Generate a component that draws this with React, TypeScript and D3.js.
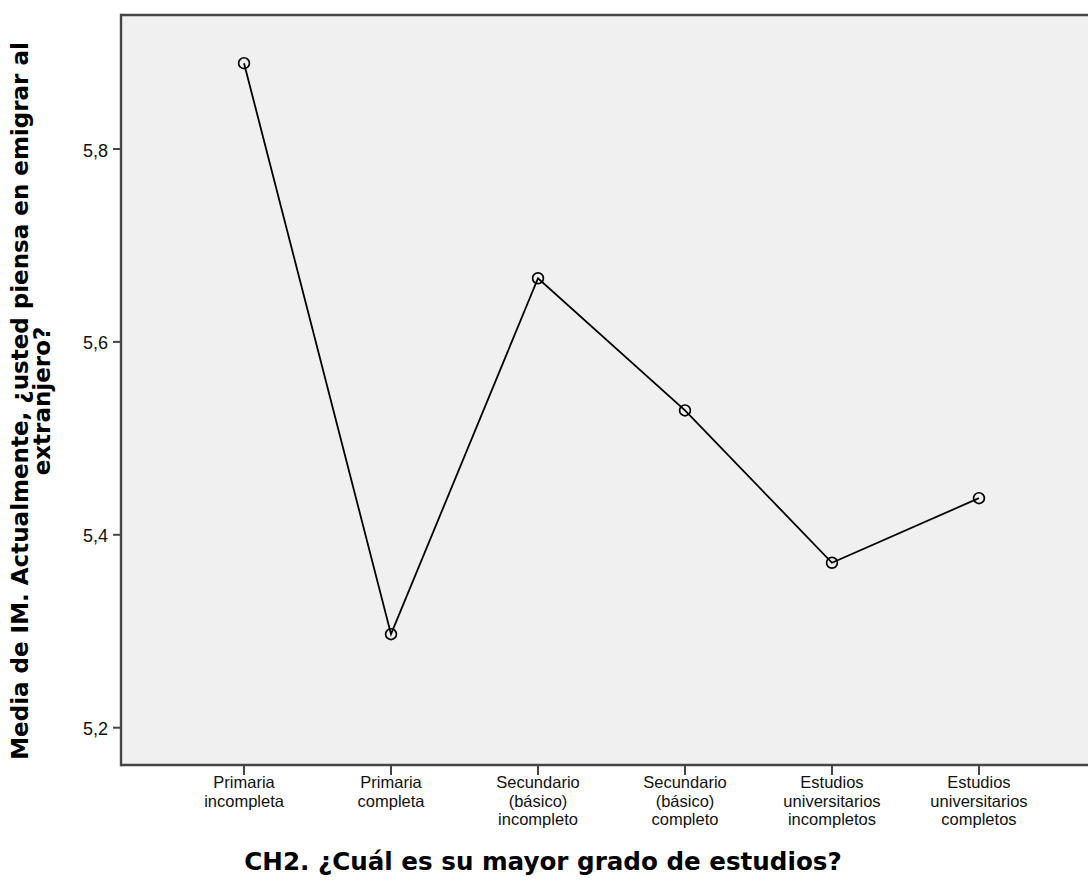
import React from "react";
import * as d3 from "d3";

const categories = [
  "Primaria incompleta",
  "Primaria completa",
  "Secundario (básico) incompleto",
  "Secundario (básico) completo",
  "Estudios universitarios incompletos",
  "Estudios universitarios completos",
];
const categoryLines = [
  ["Primaria", "incompleta"],
  ["Primaria", "completa"],
  ["Secundario", "(básico)", "incompleto"],
  ["Secundario", "(básico)", "completo"],
  ["Estudios", "universitarios", "incompletos"],
  ["Estudios", "universitarios", "completos"],
];
const means = [5.889, 5.297, 5.666, 5.529, 5.371, 5.438];
const yTicks = [5.2, 5.4, 5.6, 5.8];
const yTickLabels = ["5,2", "5,4", "5,6", "5,8"];
const yTitleLines = ["Media de IM. Actualmente, ¿usted piensa en emigrar al", "extranjero?"];
const xTitle = "CH2. ¿Cuál es su mayor grado de estudios?";

export default function App() {
  const W = 1088;
  const H = 883;
  const left = 121;
  const right = 1102;
  const top = 15;
  const bottom = 765;

  const y = d3.scaleLinear().domain([5.2, 5.8]).range([727.7, 149]);
  const x = d3.scalePoint<string>().domain(categories).range([left, right]).padding(0.837);

  const line = d3
    .line<number>()
    .x((_, i) => x(categories[i]) as number)
    .y((d) => y(d));

  const frameColor = "#454545";
  const font = "'Liberation Sans', Arial, sans-serif";
  const boldFont = "'DejaVu Sans', Verdana, sans-serif";

  return (
    <svg
      width={W}
      height={H}
      style={{ position: "absolute", left: 0, top: 0, background: "#fff", overflow: "hidden" }}
      fontFamily={font}
    >
      <rect x={left} y={top} width={W + 20 - left} height={bottom - top} fill="#f0f0f0" />
      <line x1={left} x2={W + 20} y1={top} y2={top} stroke={frameColor} strokeWidth={2.4} />
      <line x1={left} x2={W + 20} y1={bottom} y2={bottom} stroke={frameColor} strokeWidth={2.4} />
      <line x1={left} x2={left} y1={top - 1.2} y2={bottom + 1.2} stroke={frameColor} strokeWidth={2.4} />
      {yTicks.map((t, i) => (
        <g key={"yt" + i}>
          <line x1={left - 8} x2={left} y1={y(t)} y2={y(t)} stroke={frameColor} strokeWidth={2} />
          <text x={left - 13} y={y(t) + 7.5} textAnchor="end" fontSize={18} fill="#111">
            {yTickLabels[i]}
          </text>
        </g>
      ))}
      {categories.map((c, i) => {
        const cx = x(c) as number;
        return (
          <g key={"xt" + i}>
            <line x1={cx} x2={cx} y1={bottom} y2={bottom + 10} stroke={frameColor} strokeWidth={2} />
            {categoryLines[i].map((ln, j) => (
              <text key={j} x={cx} y={788 + j * 18.5} textAnchor="middle" fontSize={16.5} fill="#111">
                {ln}
              </text>
            ))}
          </g>
        );
      })}
      <path d={line(means) || ""} fill="none" stroke="#000" strokeWidth={1.8} />
      {means.map((m, i) => (
        <circle key={"pt" + i} cx={x(categories[i]) as number} cy={y(m)} r={5.4} fill="none" stroke="#000" strokeWidth={1.7} />
      ))}
      <text x={543} y={870} textAnchor="middle" fontFamily={boldFont} fontSize={24.6} fontWeight="bold" fill="#000">
        {xTitle}
      </text>
      <g transform={`translate(0, 401) rotate(-90)`}>
        {yTitleLines.map((ln, j) => (
          <text key={j} x={0} y={28 + j * 22} textAnchor="middle" fontFamily={boldFont} fontSize={23} fontWeight="bold" fill="#000">
            {ln}
          </text>
        ))}
      </g>
    </svg>
  );
}
